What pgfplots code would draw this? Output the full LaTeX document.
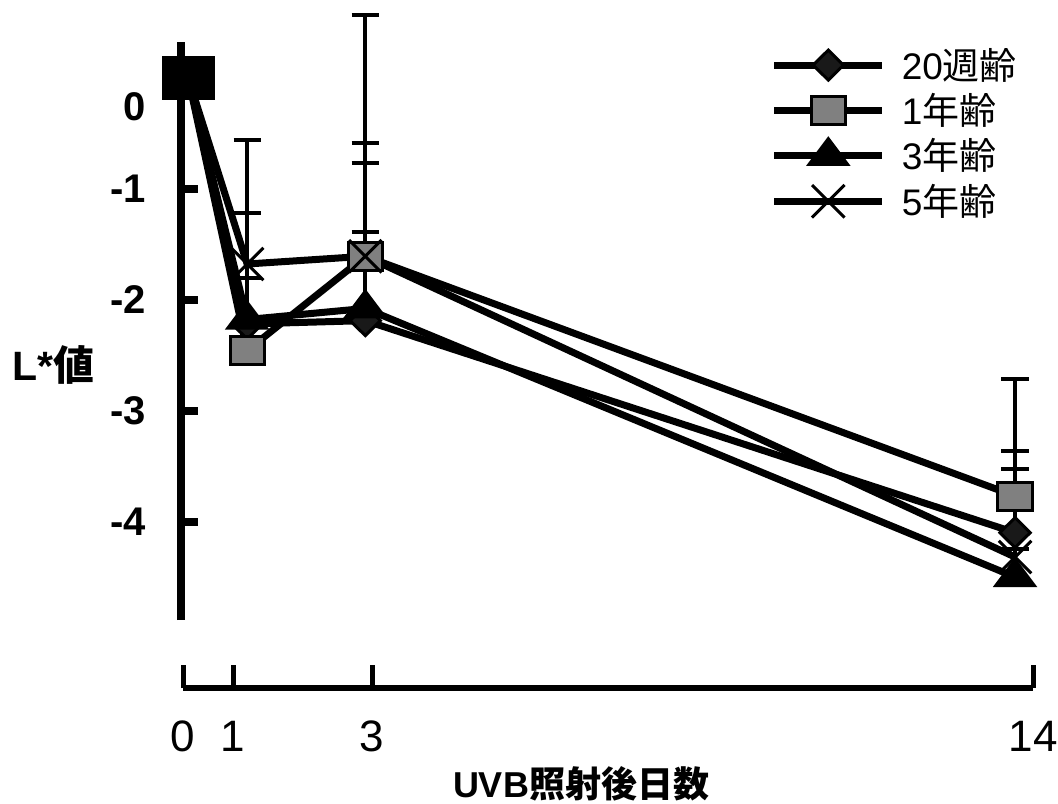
\documentclass[border=0pt]{standalone}
\usepackage{fontspec}
\setmainfont{Liberation Sans}
\newfontfamily\cjk{Noto Sans CJK JP}
\usepackage{pgfplots}
\pgfplotsset{compat=1.18}
\definecolor{sqgray}{RGB}{128,128,128}

\begin{document}
\begin{tikzpicture}
\begin{axis}[
  at={(90.5pt,-310pt)}, anchor=south west,
  scale only axis, width=431.5pt, height=289pt,
  xmin=-0.12, xmax=14.49, ymin=-4.887, ymax=0.32,
  axis x line=none,
  axis y line*=left,
  axis line style={line width=4pt,-},
  ytick={0,-1,-2,-3,-4},
  yticklabels={,-1,-2,-3,-4},
  extra y ticks={-0.266}, extra y tick labels={0},
  extra y tick style={major tick length=0pt},
  tick align=inside,
  major tick length=8.5pt,
  y tick style={line width=4pt, black},
  yticklabel style={font=\bfseries\fontsize{20}{22}\selectfont, xshift=-14pt},
  clip=false,
  legend style={at={(0.676,1.004)}, anchor=north west, draw=none, fill=none,
    font=\fontsize{18.5}{21}\selectfont, row sep=1.6pt,
    /tikz/every even column/.append style={column sep=0pt},
    /tikz/every odd column/.append style={column sep=6pt}},
  legend cell align=left,
  legend image code/.code={\draw[mark repeat=2,mark phase=2,#1] plot coordinates {(0pt,0pt) (27pt,0pt) (54pt,0pt)};},
  every axis plot/.append style={line width=3.5pt, black},
  error bars/y dir=plus, error bars/y explicit,
  error bars/error bar style={line width=2pt, black},
  error bars/error mark options={rotate=90, mark size=6.8pt, line width=2pt, black},
]
% 20 weeks (diamond)
\addplot[mark=diamond*, mark options={fill=black!90, draw=black, line width=1.5pt, xscale=1.35, mark size=7.5pt}]
  coordinates {(0,0) (1,-2.22) +- (0,1.00) (3,-2.19) +- (0,1.42) (14,-4.10) +- (0,0.74)};
\addlegendentry{20{\cjk 週齢}}
% 1 year (square)
\addplot[mark=square*, mark options={fill=sqgray, draw=black, line width=1.5pt, xscale=1.22, mark size=7pt}]
  coordinates {(0,0) (1,-2.46) +- (0,0.65) (3,-1.61) +- (0,2.17) (14,-3.77) +- (0,1.05)};
\addlegendentry{1{\cjk 年齢}}
% 3 years (triangle)
\addplot[mark=triangle*, mark options={fill=black, draw=black, line width=1pt, xscale=1.3, mark size=9pt}]
  coordinates {(0,0) (1,-2.18) +- (0,0.96) (3,-2.08) +- (0,1.49) (14,-4.50) +- (0,0.25)};
\addlegendentry{3{\cjk 年齢}}
% 5 years (x)
\addplot[mark=x, mark options={draw=black, line width=1.5pt, mark size=11.5pt}]
  coordinates {(0,0) (1,-1.68) +- (0,1.12) (3,-1.61) +- (0,0.22) (14,-4.32) +- (0,0.79)};
\addlegendentry{5{\cjk 年齢}}
% day 0 common point
\addplot[forget plot, only marks, mark=square*, mark options={fill=black, draw=black, line width=0pt, xscale=1.21, mark size=10.75pt}, error bars/y explicit=false, error bars/y dir=none]
  coordinates {(0,0)};
\end{axis}

\begin{axis}[
  at={(91.5pt,-344pt)}, anchor=south west,
  scale only axis, width=425pt, height=11.5pt,
  xmin=0, xmax=14, ymin=0, ymax=1,
  axis x line*=bottom, axis y line=none,
  axis line style={line width=2.8pt,-},
  xtick={0,0.8235,3.113,14}, xticklabels={0,1,3,14},
  tick align=inside, major tick length=11.5pt,
  x tick style={line width=2.5pt, black},
  xticklabel style={font=\fontsize{22}{24}\selectfont, yshift=-13pt},
]
\end{axis}

\node[font=\bfseries\fontsize{20.5}{23}\selectfont] at (26.5pt,-182.5pt) {L*{\cjk 値}};
\node[font=\bfseries\fontsize{18}{22}\selectfont, anchor=base] at (290.5pt,-398.5pt) {UVB{\cjk 照射後日数}};

\pgfresetboundingbox
\path (0pt,0pt) rectangle (529pt,-401.5pt);
\end{tikzpicture}
\end{document}
